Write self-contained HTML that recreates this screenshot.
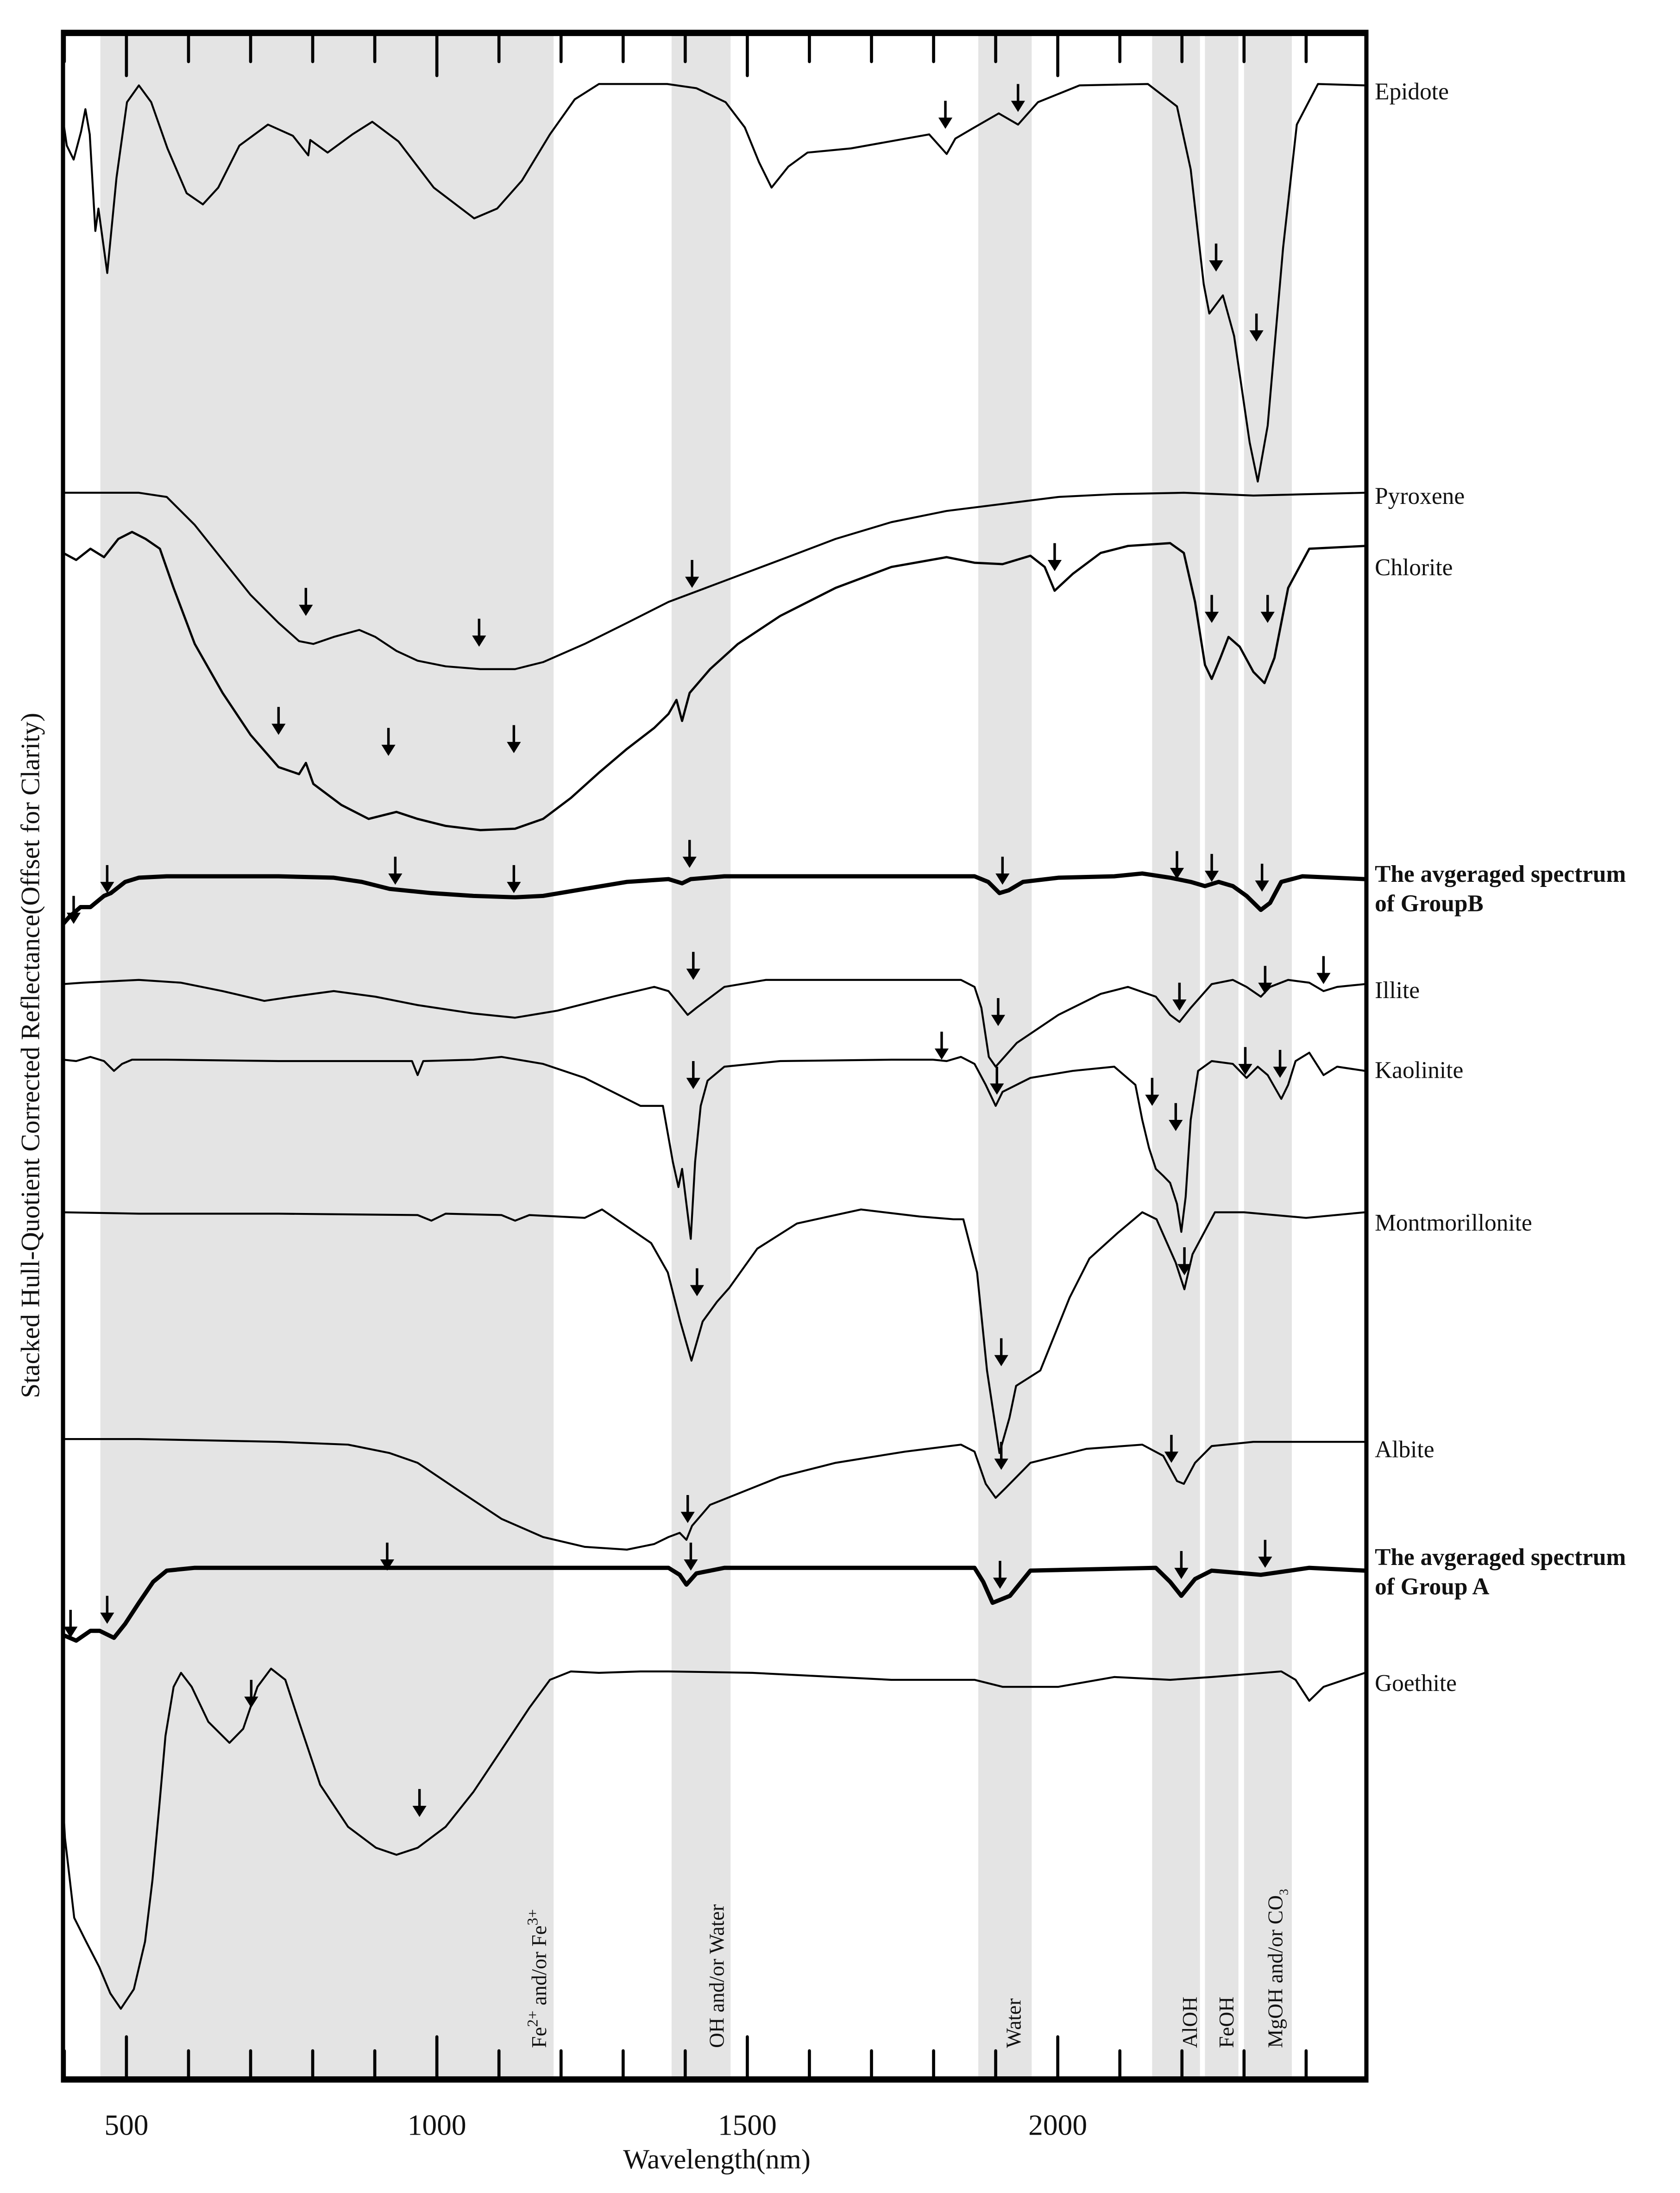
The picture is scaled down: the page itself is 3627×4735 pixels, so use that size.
<!DOCTYPE html>
<html><head><meta charset="utf-8"><style>
html,body{margin:0;padding:0;background:#fff}
svg{display:block}
text{font-family:"Liberation Serif",serif;fill:#111}
</style></head><body>
<svg id="chart" width="3627" height="4735" viewBox="0 0 1200 1566.6" xmlns="http://www.w3.org/2000/svg">
<g id="bands"></g>
<g id="band-labels"></g>
<g id="ticks"></g>
<g id="series"></g>
<g id="arrows"></g>
<rect x="45" y="23.5" width="931" height="1462" fill="none" stroke="#000" stroke-width="3"/>
<line x1="43.5" y1="23.5" x2="977.5" y2="23.5" stroke="#000" stroke-width="4.5"/>
<line x1="43.5" y1="1485.5" x2="977.5" y2="1485.5" stroke="#000" stroke-width="4.5"/>
<g id="xlabels"></g>
<text x="512" y="1549" font-size="20" text-anchor="middle">Wavelength(nm)</text>
<text transform="translate(28,754) rotate(-90)" font-size="19" text-anchor="middle">Stacked Hull-Quotient Corrected Reflectance(Offset for Clarity)</text>
<g id="labels">
<text x="982" y="71" font-size="17">Epidote</text>
<text x="982" y="360" font-size="17">Pyroxene</text>
<text x="982" y="411" font-size="17">Chlorite</text>
<text x="982" y="630" font-size="17" font-weight="bold">The avgeraged spectrum</text>
<text x="982" y="651" font-size="17" font-weight="bold">of GroupB</text>
<text x="982" y="713" font-size="17">Illite</text>
<text x="982" y="770" font-size="17">Kaolinite</text>
<text x="982" y="879" font-size="17">Montmorillonite</text>
<text x="982" y="1041" font-size="17">Albite</text>
<text x="982" y="1118" font-size="17" font-weight="bold">The avgeraged spectrum</text>
<text x="982" y="1139" font-size="17" font-weight="bold">of Group A</text>
<text x="982" y="1208" font-size="17">Goethite</text>
</g>
</svg>
<script>
// x axis: wavelength (nm); y: stacked offset reflectance units
function xs(nm){return 90.3+(nm-500)*0.4435;}
function ys(v){return 1542-v;}
const tickValues=[400,500,600,700,800,900,1000,1100,1200,1300,1400,1500,1600,1700,1800,1900,2000,2100,2200,2300,2400];
const tickLabels=["500","1000","1500","2000"];
const tickLabelValues=[500,1000,1500,2000];
const bandStart=[458,1378,1872,2152,2237,2300];
const bandEnd=[1188,1473,1958,2229,2291,2377];
const bandNames=["Fe2+ and/or Fe3+","OH and/or Water","Water","AlOH","FeOH","MgOH and/or CO3"];

const epidoteNm=[398,404,415,427,434,441,450,455,469,484,501,520,540,566,597,623,648,682,728,768,793,796,824,864,896,938,995,1060,1097,1137,1182,1222,1261,1371,1418,1465,1496,1519,1539,1566,1597,1667,1793,1821,1835,1862,1905,1936,1968,2035,2145,2192,2214,2235,2244,2266,2284,2309,2322,2338,2363,2385,2419,2497];
const epidoteV=[1456,1438,1428,1448,1464,1446,1377,1393,1347,1415,1469,1481,1469,1436,1404,1396,1408,1438,1453,1445,1431,1442,1433,1446,1455,1441,1408,1386,1393,1413,1446,1471,1482,1482,1479,1469,1451,1426,1408,1423,1433,1436,1446,1432,1443,1450,1461,1453,1469,1481,1482,1466,1421,1339,1318,1331,1302,1226,1198,1238,1365,1453,1482,1481];
const pyroxeneNm=[398,520,565,610,655,700,745,778,801,834,875,901,935,969,1014,1070,1126,1171,1238,1306,1373,1463,1553,1642,1732,1821,1911,2001,2091,2203,2315,2497];
const pyroxeneV=[1190,1190,1187,1167,1142,1117,1097,1084,1082,1087,1092,1087,1077,1070,1066,1064,1064,1069,1082,1097,1112,1127,1142,1157,1169,1177,1182,1187,1189,1190,1188,1190];
const chloriteNm=[398,419,442,464,487,509,531,554,576,610,655,700,745,778,789,801,846,890,935,969,1014,1070,1126,1171,1216,1261,1306,1350,1373,1386,1395,1407,1440,1485,1553,1642,1732,1821,1866,1911,1956,1979,1995,2024,2069,2113,2181,2203,2221,2237,2248,2262,2275,2293,2315,2333,2349,2371,2405,2497];
const chloriteV=[1147,1142,1150,1144,1157,1162,1157,1150,1122,1082,1047,1017,994,989,997,982,967,957,962,957,952,949,950,957,972,990,1007,1022,1032,1042,1027,1047,1064,1082,1102,1122,1137,1144,1140,1139,1145,1137,1120,1132,1147,1152,1154,1147,1112,1067,1057,1072,1087,1080,1062,1054,1072,1122,1150,1152];
const groupBNm=[398,408,426,442,464,475,498,520,565,745,834,879,924,991,1059,1126,1171,1238,1306,1373,1395,1409,1463,1866,1888,1906,1921,1944,2001,2091,2136,2181,2214,2237,2259,2282,2304,2327,2342,2360,2394,2497];
const groupBV=[882,887,894,894,902,904,912,915,916,916,915,912,907,904,902,901,902,907,912,914,911,914,916,916,912,904,906,912,915,916,918,915,912,909,912,909,902,892,897,912,916,914];
const illiteNm=[398,430,520,588,655,722,767,834,901,969,1059,1126,1194,1283,1350,1373,1395,1404,1418,1463,1530,1642,1844,1866,1877,1889,1900,1934,2001,2069,2113,2158,2181,2196,2214,2248,2282,2304,2327,2342,2371,2405,2428,2450,2497];
const illiteV=[839,840,842,840,834,827,830,834,830,824,818,815,820,830,837,834,822,817,822,837,842,842,842,837,822,787,780,797,817,832,837,830,817,812,822,839,842,837,830,837,842,840,834,837,839];
const kaoliniteNm=[398,419,442,464,480,493,509,565,745,960,969,978,1059,1104,1171,1238,1283,1328,1364,1380,1389,1395,1402,1409,1416,1425,1436,1463,1553,1732,1799,1821,1844,1866,1884,1900,1911,1956,2024,2091,2125,2136,2147,2158,2170,2181,2192,2199,2206,2214,2226,2248,2282,2304,2322,2338,2360,2371,2383,2405,2428,2450,2497];
const kaoliniteV=[785,784,787,784,777,782,785,785,784,784,774,784,785,787,782,772,762,752,752,712,694,707,682,657,712,752,770,780,784,785,785,784,787,782,767,752,762,772,777,780,767,742,722,707,702,697,682,662,687,742,777,784,782,772,780,774,757,767,784,790,774,780,777];
const montNm=[398,520,745,969,991,1014,1104,1126,1149,1238,1266,1345,1372,1392,1410,1428,1451,1471,1516,1580,1683,1777,1832,1848,1870,1886,1906,1922,1933,1972,2019,2051,2096,2136,2159,2190,2204,2217,2253,2300,2400,2497];
const montV=[676,675,675,674,670,675,674,670,674,672,678,654,633,598,570,598,612,622,650,668,678,673,671,671,633,563,504,529,552,563,615,643,661,676,671,640,621,646,676,676,672,676];
const albiteNm=[398,520,745,857,924,969,1036,1104,1171,1238,1306,1350,1373,1391,1402,1411,1440,1553,1642,1754,1844,1866,1884,1900,1916,1956,2046,2136,2170,2192,2203,2221,2248,2315,2497];
const albiteV=[514,514,512,510,504,497,477,457,444,437,435,439,444,447,442,452,467,487,497,505,510,505,482,472,479,497,507,510,502,484,482,497,509,512,512];
const groupANm=[398,419,442,457,480,498,520,543,565,610,1373,1391,1402,1418,1463,1866,1880,1895,1923,1956,2158,2181,2199,2221,2248,2327,2405,2497];
const groupAV=[374,370,377,377,372,382,397,412,420,422,422,417,410,418,422,422,412,397,402,420,422,412,402,414,420,417,422,420];
const goethiteNm=[398,401,416,435,456,474,491,512,530,542,553,563,576,588,605,632,666,688,711,733,756,778,812,857,902,935,969,1014,1059,1104,1149,1182,1216,1261,1328,1373,1508,1642,1732,1866,1911,2001,2091,2181,2248,2360,2383,2405,2428,2497];
const goethiteV=[252,229,172,155,137,118,107,121,155,199,252,302,337,347,337,312,297,307,337,350,342,312,267,237,222,217,222,237,262,292,322,342,348,347,348,348,347,344,342,342,337,337,344,342,344,348,342,327,337,347];

const arrowNm=[1819,1936,2255,2320,789,1068,1995,2248,2338,745,922,1124,1411,415,469,933,1124,1407,1911,2192,2248,2329,1413,1904,2196,2334,2428,1813,1902,2152,2190,2302,2358,1413,1419,1909,2204,1404,1909,2183,410,469,920,1409,1907,2199,2334,701,972];
const arrowV=[1450,1462,1348,1298,1102,1080,1134,1097,1097,1017,1002,1004,1122,882,904,910,904,922,910,914,912,905,842,809,820,832,839,785,760,752,734,774,772,764,616,566,631,454,492,497,372,382,420,420,407,414,422,322,244];

const NS='http://www.w3.org/2000/svg';
function mk(tag,attrs,parent){const e=document.createElementNS(NS,tag);for(const k in attrs)e.setAttribute(k,attrs[k]);parent.appendChild(e);return e;}

const bandsG=document.getElementById('bands');
const blG=document.getElementById('band-labels');
for(let i=0;i<bandStart.length;i++){
  const r=mk('rect',{x:xs(bandStart[i]),y:25,width:xs(bandEnd[i])-xs(bandStart[i]),height:1459,fill:'#e4e4e4'},bandsG);
  
  
}
const labelX=[390,517,729,855,881,916];
for(let i=0;i<bandNames.length;i++){
  const t=mk('text',{transform:'translate('+labelX[i]+',1463) rotate(-90)','font-size':'15'},blG);
  
  
  if(i===0){t.innerHTML='Fe<tspan dy="-6" font-size="11">2+</tspan><tspan dy="6"> and/or Fe</tspan><tspan dy="-6" font-size="11">3+</tspan>';}
  else if(i===5){t.innerHTML='MgOH and/or CO<tspan dy="4" font-size="9">3</tspan>';}
  else t.textContent=bandNames[i];
}

const tg=document.getElementById('ticks');
for(const v of tickValues){
  const major=v%500===0, L=major?29:19, x=xs(v);
  const a=mk('line',{x1:x,y1:25,x2:x,y2:25+L,stroke:'#000','stroke-width':2.2,'stroke-linecap':'round'},tg);
  
  
  const b=mk('line',{x1:x,y1:1484,x2:x,y2:1484-L,stroke:'#000','stroke-width':2.2,'stroke-linecap':'round'},tg);
  
  
}
const xl=document.getElementById('xlabels');
for(let i=0;i<tickLabels.length;i++){
  const t=mk('text',{x:xs(tickLabelValues[i]),y:1525,'font-size':'21','text-anchor':'middle'},xl);
  
  
  t.textContent=tickLabels[i];
}

const sg=document.getElementById('series');
const seriesList=[['epidote',epidoteNm,epidoteV,1.4],['pyroxene',pyroxeneNm,pyroxeneV,1.4],['chlorite',chloriteNm,chloriteV,1.6],['group-b',groupBNm,groupBV,3],['illite',illiteNm,illiteV,1.4],['kaolinite',kaoliniteNm,kaoliniteV,1.4],['montmorillonite',montNm,montV,1.4],['albite',albiteNm,albiteV,1.4],['group-a',groupANm,groupAV,3],['goethite',goethiteNm,goethiteV,1.4]];
for(const [name,nm,v,w] of seriesList){
  let d='';
  for(let i=0;i<nm.length;i++){const x=Math.min(xs(nm[i]),975);d+=(i?'L':'M')+x.toFixed(1)+','+ys(v[i]).toFixed(1);}
  const p=mk('path',{d:d,fill:'none',stroke:'#000','stroke-width':w,'stroke-linejoin':'round'},sg);
  
  
}

const ag=document.getElementById('arrows');
for(let i=0;i<arrowNm.length;i++){
  const x=xs(arrowNm[i]), y=ys(arrowV[i]);
  const g=mk('g',{},ag);
  
  
  mk('line',{x1:x,y1:y-20,x2:x,y2:y-6,stroke:'#000','stroke-width':1.8},g);
  mk('path',{d:'M'+(x-5)+','+(y-8)+'L'+(x+5)+','+(y-8)+'L'+x+','+y+'Z',fill:'#000'},g);
}
</script>
</body></html>
